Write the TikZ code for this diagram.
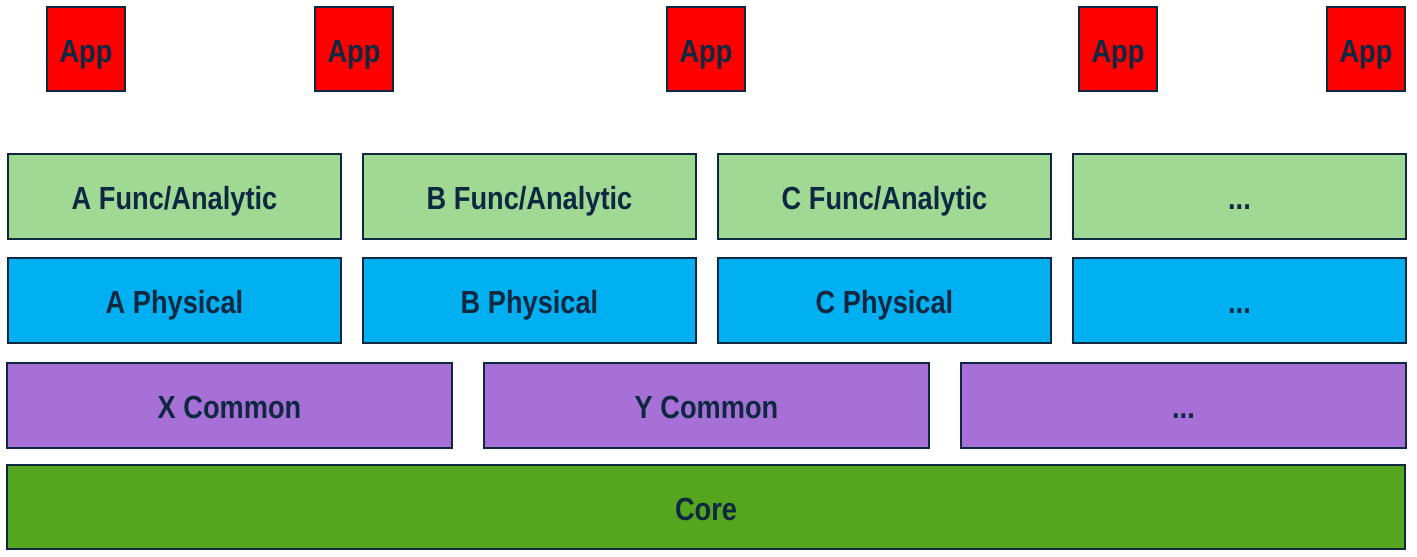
\documentclass[tikz,border=0pt]{standalone}
\usepackage{fontspec}
\setmainfont[FakeStretch=0.85]{Liberation Sans}
\usetikzlibrary{positioning}

\definecolor{appred}{HTML}{FF0000}
\definecolor{funcgreen}{HTML}{A0D994}
\definecolor{physblue}{HTML}{00B0F0}
\definecolor{compurple}{HTML}{A770D6}
\definecolor{coregreen}{HTML}{55A51E}
\definecolor{inkblue}{HTML}{0E2841}

\begin{document}
\begin{tikzpicture}[x=1pt, y=1pt, node distance=22pt, thick,
   box/.style={rectangle, draw=inkblue, line width=1.2pt, text=inkblue, inner sep=0pt, outer sep=0pt,
      font=\fontsize{32}{38}\selectfont\bfseries, text height=27pt, text depth=0pt, minimum height=85pt},
   app node/.style={box, fill=appred, minimum width=78pt, minimum height=84pt},
   func node/.style={box, fill=funcgreen, minimum width=333pt},
   phys node/.style={box, fill=physblue, minimum width=333pt},
   common node/.style={box, fill=compurple, minimum width=445pt},
   core node/.style={box, fill=coregreen, minimum width=1398pt, minimum height=84pt}]
   \useasboundingbox (0,0) rectangle (1417,557);

   % apps on top
   \node[app node] (app1) at (86,508)   {App};
   \node[app node] (app2) at (354,508)  {App};
   \node[app node] (app3) at (706,508)  {App};
   \node[app node] (app4) at (1118,508) {App};
   \node[app node] (app5) at (1366,508) {App};

   % func/analytic row
   \node[func node] (funcA) at (174.5,360.5) {A Func/Analytic};
   \node[func node] (funcB) [right=of funcA] {B Func/Analytic};
   \node[func node] (funcC) [right=of funcB] {C Func/Analytic};
   \node[func node] (funcD) [right=of funcC] {...};

   % physical row
   \node[phys node] (physA) [below=19pt of funcA] {A Physical};
   \node[phys node] (physB) [below=19pt of funcB] {B Physical};
   \node[phys node] (physC) [below=19pt of funcC] {C Physical};
   \node[phys node] (physD) [below=19pt of funcD] {...};

   % common row
   \node[common node] (comX) at (229.5,151.5) {X Common};
   \node[common node] (comY) [right=32pt of comX] {Y Common};
   \node[common node] (comZ) [right=32pt of comY] {...};

   \node[core node] (core) at (706,50) {Core};
\end{tikzpicture}
\end{document}
